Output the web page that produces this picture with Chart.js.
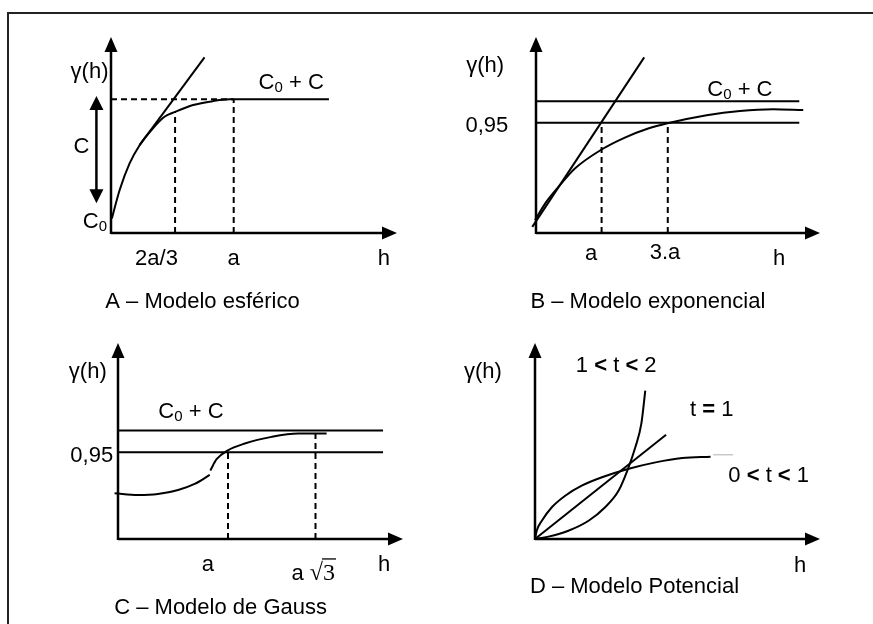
<!DOCTYPE html>
<html>
<head>
<meta charset="utf-8">
<script src="https://cdn.jsdelivr.net/npm/chart.js@4.4.1/dist/chart.umd.min.js"></script>
<style>
  html, body { margin: 0; padding: 0; background: #fff; }
  #page { position: relative; width: 873px; height: 624px; overflow: hidden; background: #fff; }
  #frame { position: absolute; left: 7px; top: 12px; width: 900px; height: 700px;
           border-left: 2px solid #222; border-top: 2px solid #222; }
  canvas { position: absolute; left: 0; top: 0; }
</style>
</head>
<body>
<div id="page">
  <div id="frame"></div>
  <canvas id="chartA" width="873" height="624"></canvas>
  <canvas id="chartB" width="873" height="624"></canvas>
  <canvas id="chartC" width="873" height="624"></canvas>
  <canvas id="chartD" width="873" height="624"></canvas>
</div>
<script>
// All values are in percent of each axis length (0 = origin, 100 = arrow tip).

// A – spherical model
const esfH      = [0.3, 3.0, 6.5, 10.0, 14.6, 18.7, 22.4, 28.7, 35.7, 41.5, 42.9, 76.2];
const esfGamma  = [7.4, 21.8, 35.5, 44.8, 53.3, 59.3, 61.8, 65.3, 67.3, 68.2, 68.2, 68.2];
const esfTanH   = [10.0, 32.7];
const esfTanG   = [44.8, 89.6];
const esfSill   = 68.2;   // C0 + C
const esfNugget = 7.4;    // C0
const esfTicks  = [{ label: '2a/3', h: 22.4, top: 61.8 }, { label: 'a', h: 42.9, top: 68.2 }];

// B – exponential model
const expH      = [-0.35, 3.2, 7.9, 13.7, 23.1, 31.3, 39.5, 46.3, 60.1, 71.8, 83.5, 94.1];
const expGamma  = [6.5, 15.0, 23.5, 32.9, 42.6, 48.7, 53.3, 56.0, 60.1, 62.3, 63.2, 62.7];
const expTanH   = [-1.3, 38.1];
const expTanG   = [3.1, 89.6];
const expSill   = 67.2;
const exp095    = 56.2;
const expLineEnd = 92.7;
const expTicks  = [{ label: 'a', h: 23.1 }, { label: '3.a', h: 46.4 }];

// C – Gaussian model
const gauLowH   = [-1.2, 7.0, 14.0, 21.1, 26.9, 32.2];
const gauLowG   = [23.3, 22.4, 22.9, 25.0, 28.1, 32.7];
const gauUpH    = [32.4, 34.6, 38.4, 44.5, 53.9, 63.2, 73.2];
const gauUpG    = [35.0, 40.7, 45.1, 48.7, 52.1, 53.8, 53.8];
const gauSill   = 55.3;
const gau095    = 44.2;
const gauLineEnd = 93.0;
const gauTicks  = [{ label: 'a', h: 38.6, top: 44.2 }, { label: 'a√3', h: 69.3, top: 55.3 }];

// D – power model
const potConcH  = [0, 0.6, 2.4, 5.9, 10.6, 16.4, 23.5, 32.6, 42.3, 51.7, 61.6];
const potConcG  = [0, 4.2, 9.3, 16.2, 22.1, 27.2, 31.5, 35.7, 39.1, 41.3, 42.0];
const potTailH  = [62.5, 69.5];
const potTailG  = [43.0, 43.0];
const potLinH   = [0, 46.0];
const potLinG   = [0, 53.2];
const potConvH  = [0, 4.7, 11.7, 18.8, 24.6, 29.3, 32.6, 35.2, 37.3, 38.7];
const potConvG  = [0, 1.2, 4.2, 9.3, 16.2, 24.6, 35.7, 46.8, 58.7, 75.7];

const FONT = '"Liberation Sans", Arial, sans-serif';
const SERIF = '"Liberation Serif", "Times New Roman", serif';
const FS = 22;

const pts = (xs, ys) => xs.map((v, i) => ({ x: v, y: ys[i] }));

function curve(xs, ys, opts = {}) {
  return Object.assign({
    data: pts(xs, ys), showLine: true, borderColor: '#000', borderWidth: 2,
    pointRadius: 0, fill: false, clip: false, tension: 0
  }, opts);
}
const smooth = { cubicInterpolationMode: 'monotone' };
const dashed = { borderDash: [6, 4], borderWidth: 2 };

// text helper: runs of [text, style]
function drawRuns(ctx, runs, cx, cy) {
  const parts = runs.map(r => {
    const [t, st = ''] = r;
    let font;
    if (st.includes('sub')) font = `${Math.round(FS * 0.7)}px ${FONT}`;
    else if (st.includes('serif')) font = `${FS + 2}px ${SERIF}`;
    else if (st.includes('bold')) font = `bold ${FS}px ${FONT}`;
    else font = `${FS}px ${FONT}`;
    ctx.font = font;
    return { t, st, font, w: ctx.measureText(t).width };
  });
  const total = parts.reduce((s, p) => s + p.w, 0);
  let xx = cx - total / 2;
  ctx.textBaseline = 'alphabetic';
  ctx.textAlign = 'left';
  const base = cy + FS * 0.36;
  parts.forEach(p => {
    ctx.font = p.font;
    const yy = p.st.includes('sub') ? base + 3 : base;
    ctx.fillText(p.t, xx, yy);
    if (p.st.includes('over')) {
      ctx.beginPath();
      ctx.lineWidth = 1.3;
      ctx.moveTo(xx - 1, base - FS * 0.95);
      ctx.lineTo(xx + p.w + 1, base - FS * 0.95);
      ctx.stroke();
    }
    xx += p.w;
  });
}

function head(ctx, x, y, dir, len = 15, half = 6.5) {
  ctx.beginPath();
  if (dir === 'right') { ctx.moveTo(x, y); ctx.lineTo(x - len, y - half); ctx.lineTo(x - len, y + half); }
  if (dir === 'up')    { ctx.moveTo(x, y); ctx.lineTo(x - half, y + len); ctx.lineTo(x + half, y + len); }
  if (dir === 'down')  { ctx.moveTo(x, y); ctx.lineTo(x - half, y - len); ctx.lineTo(x + half, y - len); }
  ctx.closePath();
  ctx.fill();
}

function decor(spec) {
  return {
    id: 'decor' + spec.name,
    afterDatasetsDraw(chart) {
      const { ctx, scales: { x, y } } = chart;
      const px = v => x.getPixelForValue(v), py = v => y.getPixelForValue(v);
      ctx.save();
      ctx.strokeStyle = '#000';
      ctx.fillStyle = '#000';
      ctx.lineWidth = 2.5;
      const x0 = px(0), y0 = py(0), xt = px(100), yt = py(100);
      ctx.beginPath();
      ctx.moveTo(x0, y0); ctx.lineTo(xt - 10, y0);
      ctx.moveTo(x0, y0 + 1); ctx.lineTo(x0, yt + 10);
      ctx.stroke();
      head(ctx, xt, y0, 'right');
      head(ctx, x0, yt, 'up');
      (spec.arrows || []).forEach(a => {
        const ax = px(a.x), a1 = py(a.from), a2 = py(a.to);
        ctx.lineWidth = 2.5;
        ctx.beginPath(); ctx.moveTo(ax, a1 - 10); ctx.lineTo(ax, a2 + 10); ctx.stroke();
        head(ctx, ax, a1, 'down', 14, 7);
        head(ctx, ax, a2, 'up', 14, 7);
      });
      (spec.labels || []).forEach(l => drawRuns(ctx, l.runs, px(l.x), py(l.y)));
      ctx.restore();
    }
  };
}

function makePanel(id, box, datasets, spec) {
  return new Chart(document.getElementById(id), {
    type: 'scatter',
    data: { datasets },
    options: {
      responsive: false, animation: false, devicePixelRatio: 1,
      layout: { padding: { left: box.ox, top: box.ty, right: 873 - box.tx, bottom: 624 - box.oy } },
      scales: {
        x: { type: 'linear', min: 0, max: 100, display: false },
        y: { type: 'linear', min: 0, max: 100, display: false }
      },
      plugins: { legend: { display: false }, tooltip: { enabled: false }, title: { display: false } },
      events: []
    },
    plugins: [decor(spec)]
  });
}

const C0C = [['C'], ['0', 'sub'], [' + C']];

// ---- A
makePanel('chartA', { ox: 111, oy: 233, tx: 397, ty: 37 }, [
  curve([0, esfTicks[1].h], [esfSill, esfSill], dashed),
  ...esfTicks.map(t => curve([t.h, t.h], [0, t.top], dashed)),
  curve(esfTanH, esfTanG),
  curve(esfH, esfGamma, smooth)
], {
  name: 'A',
  arrows: [{ x: -5.1, from: 15.2, to: 69.9 }],
  labels: [
    { runs: [['γ(h)']], x: -7.5, y: 83 },
    { runs: C0C, x: 63, y: 77.5 },
    { runs: [['C']], x: -10.3, y: 44.8 },
    { runs: [['C'], ['0', 'sub']], x: -5.6, y: esfNugget - 1 },
    ...esfTicks.map(t => ({ runs: [[t.label]], x: t.h - (t.label === 'a' ? 0 : 6.5), y: -12.4 })),
    { runs: [['h']], x: 95.4, y: -12.4 },
    { runs: [['A – Modelo esférico']], x: 32, y: -34.4 }
  ]
});

// ---- B
makePanel('chartB', { ox: 536, oy: 233, tx: 820, ty: 37 }, [
  curve([0, expLineEnd], [expSill, expSill]),
  curve([0, expLineEnd], [exp095, exp095]),
  ...expTicks.map(t => curve([t.h, t.h], [0, exp095], dashed)),
  curve(expTanH, expTanG),
  curve(expH, expGamma, smooth)
], {
  name: 'B',
  labels: [
    { runs: [['γ(h)']], x: -17.9, y: 86.2 },
    { runs: [['0,95']], x: -17.3, y: 55.5 },
    { runs: C0C, x: 71.8, y: 73.9 },
    { runs: [[expTicks[0].label]], x: 19.4, y: -9.9 },
    { runs: [[expTicks[1].label]], x: 45.4, y: -9.4 },
    { runs: [['h']], x: 85.6, y: -12.4 },
    { runs: [['B – Modelo exponencial']], x: 39.4, y: -34.4 }
  ]
});

// ---- C
makePanel('chartC', { ox: 118, oy: 539, tx: 403, ty: 343 }, [
  curve([0, gauLineEnd], [gauSill, gauSill]),
  curve([0, gauLineEnd], [gau095, gau095]),
  ...gauTicks.map(t => curve([t.h, t.h], [0, t.top], dashed)),
  curve(gauLowH, gauLowG, smooth),
  curve(gauUpH, gauUpG, smooth)
], {
  name: 'C',
  labels: [
    { runs: [['γ(h)']], x: -10.6, y: 86.2 },
    { runs: C0C, x: 25.6, y: 65.8 },
    { runs: [['0,95']], x: -9.2, y: 43.4 },
    { runs: [['a']], x: 31.5, y: -12.2 },
    { runs: [['a '], ['√', 'serif'], ['3', 'serif over']], x: 68.5, y: -16.8 },
    { runs: [['h']], x: 93.4, y: -12.2 },
    { runs: [['C – Modelo de Gauss']], x: 36, y: -34.2 }
  ]
});

// ---- D
makePanel('chartD', { ox: 535, oy: 539, tx: 820, ty: 343 }, [
  curve(potLinH, potLinG),
  curve(potConcH, potConcG, smooth),
  curve(potTailH, potTailG, { borderColor: '#c8c8c8', borderWidth: 1.5 }),
  curve(potConvH, potConvG, smooth)
], {
  name: 'D',
  labels: [
    { runs: [['γ(h)']], x: -18.3, y: 86.2 },
    { runs: [['1 '], ['<', 'bold'], [' t '], ['<', 'bold'], [' 2']], x: 28.5, y: 89.3 },
    { runs: [['t '], ['=', 'bold'], [' 1']], x: 62, y: 66.8 },
    { runs: [['0 '], ['<', 'bold'], [' t '], ['<', 'bold'], [' 1']], x: 82, y: 33.2 },
    { runs: [['h']], x: 93, y: -12.8 },
    { runs: [['D – Modelo Potencial']], x: 34.9, y: -23.5 }
  ]
});
</script>
</body>
</html>
